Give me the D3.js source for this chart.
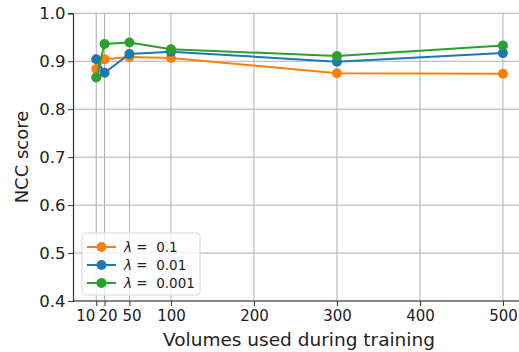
<!DOCTYPE html>
<html>
<head>
<meta charset="utf-8">
<script src="https://cdn.jsdelivr.net/npm/d3@7"></script>
<style>
  body { margin: 0; background: #fff; }
  svg { font-family: "DejaVu Sans", sans-serif; }
</style>
</head>
<body>
<script>
const w = 519
const h = 352

// training volumes (x) and NCC scores per lambda
const volumes = [10, 20, 50, 100, 300, 500]
const lambdas = ["0.1", "0.01", "0.001"]
const scoresL1 = [0.884, 0.904, 0.909, 0.907, 0.875, 0.874]
const scoresL01 = [0.904, 0.876, 0.915, 0.920, 0.899, 0.917]
const scoresL001 = [0.866, 0.936, 0.939, 0.925, 0.911, 0.933]
const colors = ["#ff7f0e", "#1f77b4", "#2ca02c"]
const xTicks = [10, 20, 50, 100, 200, 300, 400, 500]
const yTicks = [0.4, 0.5, 0.6, 0.7, 0.8, 0.9, 1.0]

const series = [scoresL1, scoresL01, scoresL001].map((vals, i) => ({
  label: lambdas[i],
  color: colors[i],
  points: vals.map((v, j) => ({x: volumes[j], y: v}))
}))

const margin = {left: 73, top: 13.3, bottom: 301}

const x = d3.scaleLinear()
            .domain([-18, 528])
            .range([margin.left, margin.left + 546 * 0.83])

const y = d3.scaleLinear()
            .domain([0.4, 1.0])
            .range([margin.bottom, margin.top])

const svg = d3.select("body")
              .append("svg")
              .attr("width", w)
              .attr("height", h)

// grid
svg.append("g")
    .selectAll("line")
    .data(xTicks)
    .enter()
    .append("line")
      .attr("x1", d => x(d)).attr("x2", d => x(d))
      .attr("y1", margin.top).attr("y2", margin.bottom)
      .attr("stroke", "#b0b0b0").attr("stroke-width", 1)

svg.append("g")
    .selectAll("line")
    .data(yTicks)
    .enter()
    .append("line")
      .attr("x1", margin.left).attr("x2", w)
      .attr("y1", d => y(d)).attr("y2", d => y(d))
      .attr("stroke", "#b0b0b0").attr("stroke-width", 1)

// axes
const xAxis = d3.axisBottom(x)
                .tickValues(xTicks)
                .tickSize(5)
                .tickPadding(4)
                .tickFormat(d3.format("d"))

const yAxis = d3.axisLeft(y)
                .tickValues(yTicks)
                .tickSize(5)
                .tickPadding(2.5)
                .tickFormat(d3.format(".1f"))

const gx = svg.append("g")
    .attr("transform", `translate(0, ${margin.bottom})`)
    .call(xAxis)
gx.select(".domain").attr("d", `M${margin.left},0H${w}`)

// the crowded small-volume labels sit apart from their ticks
const labelShift = {10: -11, 20: 3, 50: 2}
gx.selectAll(".tick text")
    .attr("dx", d => labelShift[d] || 0)
    .attr("font-size", 15)

const gy = svg.append("g")
    .attr("transform", `translate(${margin.left}, 0)`)
    .call(yAxis)
gy.selectAll(".tick text")
    .attr("font-size", 16.5)

svg.selectAll(".tick text")
    .attr("fill", "#222")
    .attr("font-family", "DejaVu Sans")
svg.selectAll(".tick line").attr("stroke", "#333")
svg.selectAll(".domain").attr("stroke", "#333").attr("stroke-width", 1.2)

// labels
svg.append("text")
    .attr("x", 299)
    .attr("y", 346)
    .attr("text-anchor", "middle")
    .attr("font-size", 18.5)
    .attr("fill", "#222")
    .text("Volumes used during training")

svg.append("text")
    .attr("transform", `translate(28, 157) rotate(-90)`)
    .attr("text-anchor", "middle")
    .attr("font-size", 18)
    .attr("fill", "#222")
    .text("NCC score")

// lines and markers
const line = d3.line()
               .x(d => x(d.x))
               .y(d => y(d.y))

const groups = svg.selectAll(".series")
    .data(series)
    .enter()
    .append("g")
    .attr("class", "series")

groups.append("path")
    .attr("d", d => line(d.points))
    .attr("fill", "none")
    .attr("stroke", d => d.color)
    .attr("stroke-width", 2)

groups.selectAll("circle")
    .data(d => d.points.map(p => ({...p, color: d.color})))
    .enter()
    .append("circle")
      .attr("cx", d => x(d.x))
      .attr("cy", d => y(d.y))
      .attr("r", 5)
      .attr("fill", d => d.color)

// legend
const legend = svg.append("g")
    .attr("transform", "translate(82, 233)")

legend.append("rect")
    .attr("width", 118)
    .attr("height", 62)
    .attr("rx", 3)
    .attr("fill", "white")
    .attr("fill-opacity", 0.8)
    .attr("stroke", "#d6d6d6")

const items = legend.selectAll(".item")
    .data(series)
    .enter()
    .append("g")
    .attr("transform", (d, i) => `translate(0, ${14 + i * 18})`)

items.append("line")
    .attr("x1", 5).attr("x2", 34)
    .attr("stroke", d => d.color)
    .attr("stroke-width", 2)

items.append("circle")
    .attr("cx", 19.5)
    .attr("r", 5)
    .attr("fill", d => d.color)

const txt = items.append("text")
    .attr("x", 42)
    .attr("y", 5)
    .attr("font-size", 13.5)
    .attr("fill", "#222")
txt.append("tspan").attr("font-style", "italic").text("λ")
txt.append("tspan").attr("xml:space", "preserve").text(d => " =  " + d.label)
</script>
</body>
</html>
